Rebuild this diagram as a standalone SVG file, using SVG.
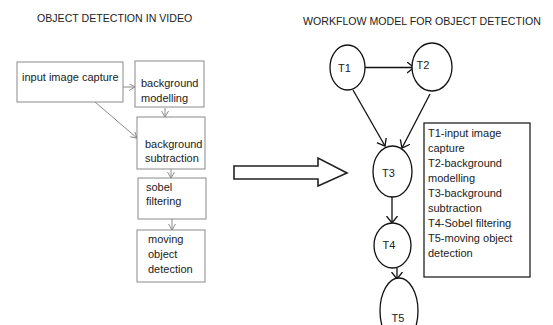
<svg xmlns="http://www.w3.org/2000/svg" width="553" height="325" viewBox="0 0 553 325">
<style>
text{font-family:"Liberation Sans",Arial,sans-serif;fill:#222}
.t{font-size:11px}
.h{font-size:10.6px}
.box{fill:#fff;stroke:#8a8a8a;stroke-width:1}
.la{stroke:#8a8a8a;stroke-width:1;fill:none;marker-end:url(#sa)}
.node{fill:#fff;stroke:#111;stroke-width:1.3}
.ra{stroke:#111;stroke-width:1.3;fill:none;marker-end:url(#ba)}
</style>
<defs>
<marker id="sa" markerUnits="userSpaceOnUse" markerWidth="8" markerHeight="8" refX="6" refY="3.5" orient="auto">
<path d="M0,0 L6,3.5 L0,7" fill="none" stroke="#8a8a8a" stroke-width="1"/>
</marker>
<marker id="ba" markerUnits="userSpaceOnUse" markerWidth="10" markerHeight="12" refX="7" refY="5.5" orient="auto">
<path d="M0,0 L7,5.5 L0,11" fill="none" stroke="#111" stroke-width="1.3"/>
</marker>
</defs>
<rect width="553" height="325" fill="#fff"/>
<text class="h" x="37" y="22">OBJECT DETECTION IN VIDEO</text>
<text class="h" x="303" y="25">WORKFLOW MODEL FOR OBJECT DETECTION</text>
<g id="connectors">
<line class="la" x1="123" y1="87" x2="135" y2="87"/>
<line class="la" x1="95" y1="102" x2="137" y2="138"/>
<line class="la" x1="165" y1="108" x2="165" y2="117"/>
<line class="la" x1="171" y1="169" x2="171" y2="178"/>
<line class="la" x1="172" y1="219" x2="172" y2="230"/>
<line class="ra" x1="365" y1="67.5" x2="414" y2="67.5"/>
<line class="ra" x1="353" y1="90" x2="385" y2="146"/>
<line class="ra" x1="430" y1="94" x2="402" y2="148"/>
<line class="ra" x1="392" y1="197" x2="392" y2="223"/>
<line class="ra" x1="397" y1="268" x2="397" y2="279"/>
</g>
<g id="capture"><rect class="box" x="17" y="62" width="106" height="40"/><text class="t" x="22" y="81">input image capture</text></g>
<g id="modelling"><rect class="box" x="135" y="61" width="69" height="46"/><text class="t" x="141" y="87">background</text><text class="t" x="141" y="102">modelling</text></g>
<g id="subtraction"><rect class="box" x="137" y="117" width="68" height="52"/><text class="t" x="145" y="148">background</text><text class="t" x="145" y="162">subtraction</text></g>
<g id="sobel"><rect class="box" x="138" y="178" width="68" height="41"/><text class="t" x="146" y="191">sobel</text><text class="t" x="146" y="205">filtering</text></g>
<g id="moving"><rect class="box" x="137" y="230" width="68" height="52"/><text class="t" x="148" y="243">moving</text><text class="t" x="148" y="258">object</text><text class="t" x="148" y="273">detection</text></g>
<g id="bigarrow"><polygon points="234,166 318,166 318,158 347,173 318,186 318,179 234,179" fill="#fff" stroke="#222" stroke-width="1.6"/></g>
<g id="T1"><ellipse class="node" cx="347.5" cy="67.5" rx="17.5" ry="22.5"/><text class="t" x="344.5" y="72" text-anchor="middle">T1</text></g>
<g id="T2"><ellipse class="node" cx="432" cy="67" rx="20" ry="24"/><text class="t" x="423" y="69" text-anchor="middle">T2</text></g>
<g id="T3"><ellipse class="node" cx="392.5" cy="171.5" rx="19.5" ry="25.5"/><text class="t" x="388.5" y="177" text-anchor="middle">T3</text></g>
<g id="T4"><ellipse class="node" cx="392.5" cy="245.5" rx="18.5" ry="22.5"/><text class="t" x="389" y="249" text-anchor="middle">T4</text></g>
<g id="T5"><ellipse class="node" cx="399" cy="311" rx="19" ry="33"/><text class="t" x="398" y="322" text-anchor="middle">T5</text></g>
<g id="legend"><rect x="424" y="123" width="106" height="154" fill="#fff" stroke="#222" stroke-width="1.3"/>
<text class="t" x="428" y="137">T1-input image</text>
<text class="t" x="428" y="152">capture</text>
<text class="t" x="428" y="167">T2-background</text>
<text class="t" x="428" y="182">modelling</text>
<text class="t" x="428" y="197">T3-background</text>
<text class="t" x="428" y="212">subtraction</text>
<text class="t" x="428" y="227">T4-Sobel filtering</text>
<text class="t" x="428" y="242">T5-moving object</text>
<text class="t" x="428" y="257">detection</text>
</g>
</svg>
